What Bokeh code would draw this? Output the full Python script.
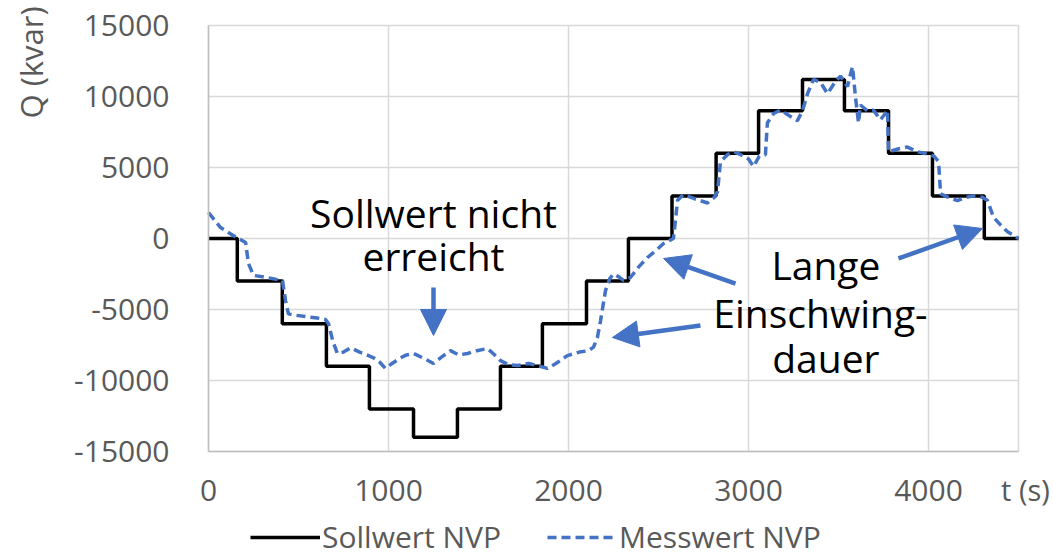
from bokeh.plotting import figure
from bokeh.models import Range1d, Label, Arrow, NormalHead, Legend, LegendItem, FixedTicker, LinearAxis
from bokeh.embed import file_html
from bokeh.resources import INLINE
import math

# Sollwert (setpoint) steps: switching times and levels
soll_t = [0, 160, 410, 655, 894, 1139, 1383, 1622, 1855, 2100, 2333, 2575, 2820, 3056, 3300, 3533, 3778, 4022, 4310, 4500]
soll_q = [0, -3000, -6000, -9000, -12000, -14000, -12000, -9000, -6000, -3000, 0, 3000, 6000, 9000, 11200, 9000, 6000, 3000, 0, 0]

# Messwert (measured)
mess_t = [0, 67, 139, 206, 222, 250, 300, 344, 411, 428, 444, 480, 540, 605, 650, 667, 690, 716, 750, 789,
          840, 880, 917, 950, 983, 1020, 1067, 1100, 1139, 1190, 1250, 1300, 1344, 1390, 1439, 1490, 1550, 1590,
          1622, 1670, 1717, 1780, 1840, 1883, 1930, 1994, 2060, 2110, 2139, 2160, 2178, 2192, 2206, 2230, 2250,
          2280, 2306, 2344, 2390, 2439, 2490, 2528, 2583, 2596, 2606, 2639, 2700, 2772, 2810, 2828, 2844, 2883,
          2920, 2956, 3000, 3028, 3060, 3094, 3105, 3140, 3178, 3220, 3272, 3300, 3328, 3361, 3400, 3439, 3480,
          3511, 3550, 3565, 3578, 3594, 3611, 3622, 3660, 3694, 3733, 3760, 3772, 3778, 3830, 3883, 3940, 3994,
          4030, 4056, 4067, 4110, 4161, 4210, 4250, 4300, 4328, 4361, 4400, 4439, 4500]
mess_q = [1830, 770, 200, -280, -1760, -2600, -2700, -2800, -2960, -4370, -5300, -5400, -5500, -5600, -5700, -6000,
          -7200, -8100, -8000, -7700, -8000, -8200, -8400, -8700, -9150, -8800, -8400, -8200, -8100, -8400, -8800,
          -8300, -7900, -8200, -8100, -7900, -7750, -8200, -8600, -8900, -8950, -8800, -9000, -9150, -8800, -8250,
          -8000, -7900, -7650, -7000, -5800, -4700, -3650, -2800, -2500, -2700, -2950, -2750, -2000, -1340, -800,
          -350, 0, 1500, 2700, 3100, 2800, 2500, 2900, 3300, 5400, 5900, 6100, 5900, 5600, 5070, 5800, 5900, 8150,
          8800, 9040, 8700, 8300, 9000, 10200, 11200, 11000, 10200, 11000, 11440, 10700, 11500, 12100, 10000, 8150,
          9400, 9000, 9040, 8360, 8800, 9040, 6100, 6300, 6440, 6100, 5960, 5800, 5410, 3150, 2900, 2670, 2900,
          3000, 2900, 2670, 1500, 960, 480, 0]

x_ticks = [0, 1000, 2000, 3000, 4000]
y_ticks = [-15000, -10000, -5000, 0, 5000, 10000, 15000]
x_min, x_max = 0, 4500
y_min, y_max = -15000, 15000

FONT = "Open Sans"
GRAY = "#595959"
BLUE = "#4472C4"
GRID = "#D9D9D9"

W, H = 1053, 557
# plot area placement on the canvas (pixels)
left_px, right_px, top_px, bottom_px = 208, 1018, 25, 451
sx = (right_px - left_px) / (x_max - x_min)
sy = (bottom_px - top_px) / (y_max - y_min)
xr = Range1d(x_min - left_px / sx, x_max + (W - right_px) / sx)
yr = Range1d(y_min - (H - bottom_px) / sy, y_max + top_px / sy)

p = figure(width=W, height=H, output_backend="svg", toolbar_location=None,
           x_range=xr, y_range=yr, x_axis_location=None, y_axis_location=None,
           min_border_left=0, min_border_right=0, min_border_top=0, min_border_bottom=0)
p.background_fill_color = "white"
p.border_fill_color = "white"
p.outline_line_color = None
p.xgrid.visible = False
p.ygrid.visible = False

# grid lines of the plot area (incl. its border at x_max and y_max)
gx = x_ticks + [x_max]
p.segment(x0=gx, y0=[y_min] * len(gx), x1=gx, y1=[y_max] * len(gx), line_color=GRID, line_width=1.5)
p.segment(x0=[x_min] * len(y_ticks), y0=y_ticks, x1=[x_max] * len(y_ticks), y1=y_ticks,
          line_color=GRID, line_width=1.5)

xaxis = LinearAxis(fixed_location=y_min, bounds=(x_min, x_max), ticker=FixedTicker(ticks=x_ticks))
yaxis = LinearAxis(fixed_location=x_min, bounds=(y_min, y_max), ticker=FixedTicker(ticks=y_ticks),
                   major_label_overrides={v: str(v) for v in y_ticks})
for ax in (xaxis, yaxis):
    ax.major_tick_line_color = None
    ax.minor_tick_line_color = None
    ax.axis_line_color = "#BFBFBF"
    ax.axis_line_width = 1.5
    ax.major_label_text_color = GRAY
    ax.major_label_text_font = FONT
    ax.major_label_text_font_size = "30px"
xaxis.major_label_standoff = 22
yaxis.major_label_standoff = 33
p.add_layout(xaxis, "below")
p.add_layout(yaxis, "left")

r_soll = p.step(soll_t, soll_q, mode="after", line_color="black", line_width=3.5)
r_mess = p.line(mess_t, mess_q, line_color=BLUE, line_width=3.5, line_dash="9 5")

def txt(x, y, s):
    p.add_layout(Label(x=x, y=y, text=s, text_font=FONT, text_font_size="39px", text_color="black",
                       text_align="center", text_baseline="middle"))

txt(1250, 1800, "Sollwert nicht")
txt(1250, -1200, "erreicht")
txt(3430, -1800, "Lange")
txt(3400, -5200, "Einschwing-")
txt(3430, -8400, "dauer")

def arr(x0, y0, x1, y1):
    p.add_layout(Arrow(end=NormalHead(size=26, fill_color=BLUE, line_color=BLUE),
                       x_start=x0, y_start=y0, x_end=x1, y_end=y1,
                       line_color=BLUE, line_width=4.5))

arr(1250, -3450, 1250, -6830)
arr(2928, -3170, 2528, -1408)
arr(2733, -6127, 2244, -6972)
arr(3833, -1408, 4300, 704)

p.add_layout(Label(x=-985, y=12400, text="Q (kvar)", angle=math.pi / 2,
                   text_font=FONT, text_font_size="31px", text_color=GRAY,
                   text_align="center", text_baseline="middle"))
p.add_layout(Label(x=4539, y=-17680, text="t (s)",
                   text_font=FONT, text_font_size="29px", text_color=GRAY,
                   text_align="center", text_baseline="middle"))

legend = Legend(items=[LegendItem(label="Sollwert NVP", renderers=[r_soll]),
                       LegendItem(label="Messwert NVP", renderers=[r_mess])],
                orientation="horizontal", location=(250, 0),
                glyph_width=70, glyph_height=20, label_text_font=FONT, label_text_font_size="30px",
                label_text_color=GRAY, border_line_color=None, background_fill_alpha=0,
                spacing=46, padding=0, label_standoff=2, margin=0)
p.add_layout(legend, "center")

open("out.html", "w").write(file_html(p, INLINE))
